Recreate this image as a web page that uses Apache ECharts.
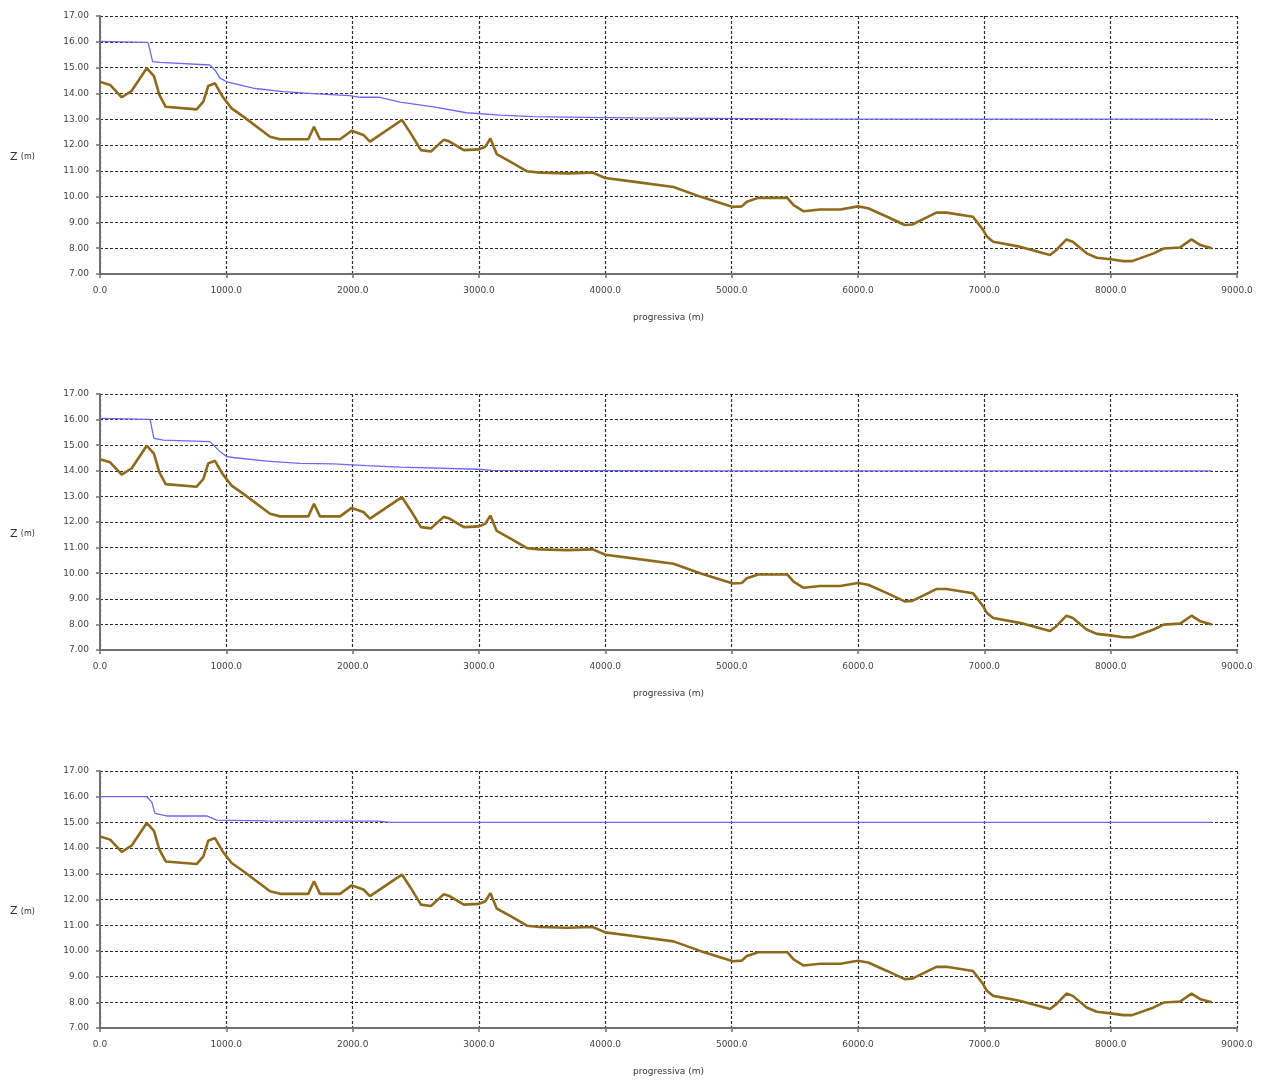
<!DOCTYPE html>
<html>
<head>
<meta charset="utf-8">
<script src="https://cdn.jsdelivr.net/npm/echarts@6/dist/echarts.min.js"></script>
<style>
html,body{margin:0;padding:0;background:#fff;}
#c{width:1263px;height:1080px;}
</style>
</head>
<body>
<div id="c"></div>
<script>
// Ground profile (same in all three panels)
const groundX = [0,80,172,251,370,427,470,520,765,818,857,910,971,1042,1135,1346,1425,1649,1694,1741,1900,1992,2085,2137,2390,2460,2540,2620,2720,2760,2880,3000,3050,3090,3140,3250,3380,3480,3700,3900,4000,4220,4540,4750,5010,5080,5120,5210,5440,5490,5570,5700,5860,6000,6080,6230,6370,6430,6620,6700,6910,6990,7020,7070,7280,7520,7570,7650,7700,7810,7890,8000,8100,8170,8340,8420,8550,8640,8710,8800];
const groundZ = [14.45,14.33,13.85,14.10,14.98,14.67,13.94,13.48,13.38,13.68,14.29,14.39,13.87,13.42,13.10,12.32,12.22,12.22,12.71,12.22,12.22,12.55,12.39,12.13,12.97,12.45,11.80,11.75,12.20,12.15,11.80,11.83,11.93,12.25,11.65,11.35,10.98,10.93,10.90,10.93,10.72,10.58,10.37,10.00,9.60,9.62,9.80,9.95,9.95,9.67,9.43,9.50,9.50,9.62,9.55,9.22,8.90,8.92,9.38,9.38,9.22,8.71,8.45,8.25,8.06,7.74,7.93,8.34,8.25,7.80,7.63,7.57,7.50,7.50,7.80,7.99,8.03,8.34,8.12,8.00];

// Water surface, panel 1
const water1X = [0,380,417,475,870,910,950,1003,1214,1451,1715,1979,2058,2216,2375,2640,2900,3170,3430,3830,4220,5440,5480,8800];
const water1Z = [16.02,15.98,15.23,15.20,15.10,14.91,14.59,14.45,14.20,14.07,13.98,13.91,13.85,13.85,13.66,13.48,13.25,13.16,13.10,13.07,13.05,13.01,13.00,13.00];
// Water surface, panel 2
const water2X = [0,396,427,501,871,950,1003,1055,1319,1583,1847,2111,2375,3000,3100,5000,8800];
const water2Z = [16.05,16.01,15.27,15.20,15.14,14.75,14.55,14.52,14.38,14.29,14.27,14.20,14.14,14.06,14.02,14.00,14.00];
// Water surface, panel 3
const water3X = [0,370,409,435,528,845,924,1055,1319,2200,2300,8800];
const water3Z = [16.00,16.00,15.80,15.35,15.25,15.25,15.09,15.08,15.06,15.05,15.00,15.00];

const yMin = 7, yMax = 17, yStep = 1;
const xMin = 0, xMax = 9000, xStep = 1000;
const xName = 'progressiva (m)';
const yNameMain = 'Z', yNameUnit = '(m)';

function pairs(xs, ys){ return xs.map((x,i)=>[x, ys[i]]); }

const gridTops = [16, 394, 771];
const gridH = [258, 256, 257];
const waters = [[water1X,water1Z],[water2X,water2Z],[water3X,water3Z]];

const FONT = 'DejaVu Sans';
const grids = [], xAxes = [], yAxes = [], series = [], graphics = [];
gridTops.forEach((t,i)=>{
  grids.push({left:100, right:26, top:t, height:gridH[i], containLabel:false});
  xAxes.push({
    type:'value', gridIndex:i, min:xMin, max:xMax, interval:xStep,
    name:xName, nameLocation:'middle', nameGap:39,
    nameTextStyle:{fontFamily:FONT, fontSize:9, color:'#333'},
    axisLine:{onZero:false, lineStyle:{color:'#707070', width:2}},
    axisTick:{show:true, length:4, lineStyle:{color:'#707070', width:1.5}},
    axisLabel:{fontFamily:FONT, fontSize:9, color:'#444', margin:12, formatter:v=>v.toFixed(1), showMaxLabel:true},
    splitLine:{show:true, lineStyle:{color:'#2a2a2a', width:1.2, type:[3,2]}}
  });
  yAxes.push({
    type:'value', gridIndex:i, min:yMin, max:yMax, interval:yStep,
    axisLine:{show:true, onZero:false, lineStyle:{color:'#707070', width:2}},
    axisTick:{show:true, length:4, lineStyle:{color:'#707070', width:1.5}},
    axisLabel:{fontFamily:FONT, fontSize:9, color:'#444', margin:11, formatter:v=>v.toFixed(2)},
    splitLine:{show:true, lineStyle:{color:'#2a2a2a', width:1.2, type:[3,2]}}
  });
  series.push({
    type:'line', xAxisIndex:i, yAxisIndex:i, data:pairs(groundX, groundZ),
    symbol:'none', lineStyle:{color:'#8d6a1c', width:2.6}, z:3, animation:false
  });
  series.push({
    type:'line', xAxisIndex:i, yAxisIndex:i, data:pairs(waters[i][0], waters[i][1]),
    symbol:'none', lineStyle:{color:'#6a6af0', width:1.3}, z:4, animation:false
  });
  graphics.push({
    type:'text', left:10, top:t + gridH[i]/2 + 6,
    style:{text:'{a|'+yNameMain+'} {b|'+yNameUnit+'}', rich:{a:{fontFamily:FONT, fontSize:11, fill:'#333'}, b:{fontFamily:FONT, fontSize:8, fill:'#333'}}}
  });
});

const chart = echarts.init(document.getElementById('c'), null, {renderer:'canvas'});
chart.setOption({
  backgroundColor:'#fff',
  animation:false,
  grid:grids, xAxis:xAxes, yAxis:yAxes, series:series, graphic:graphics
});
</script>
</body>
</html>
